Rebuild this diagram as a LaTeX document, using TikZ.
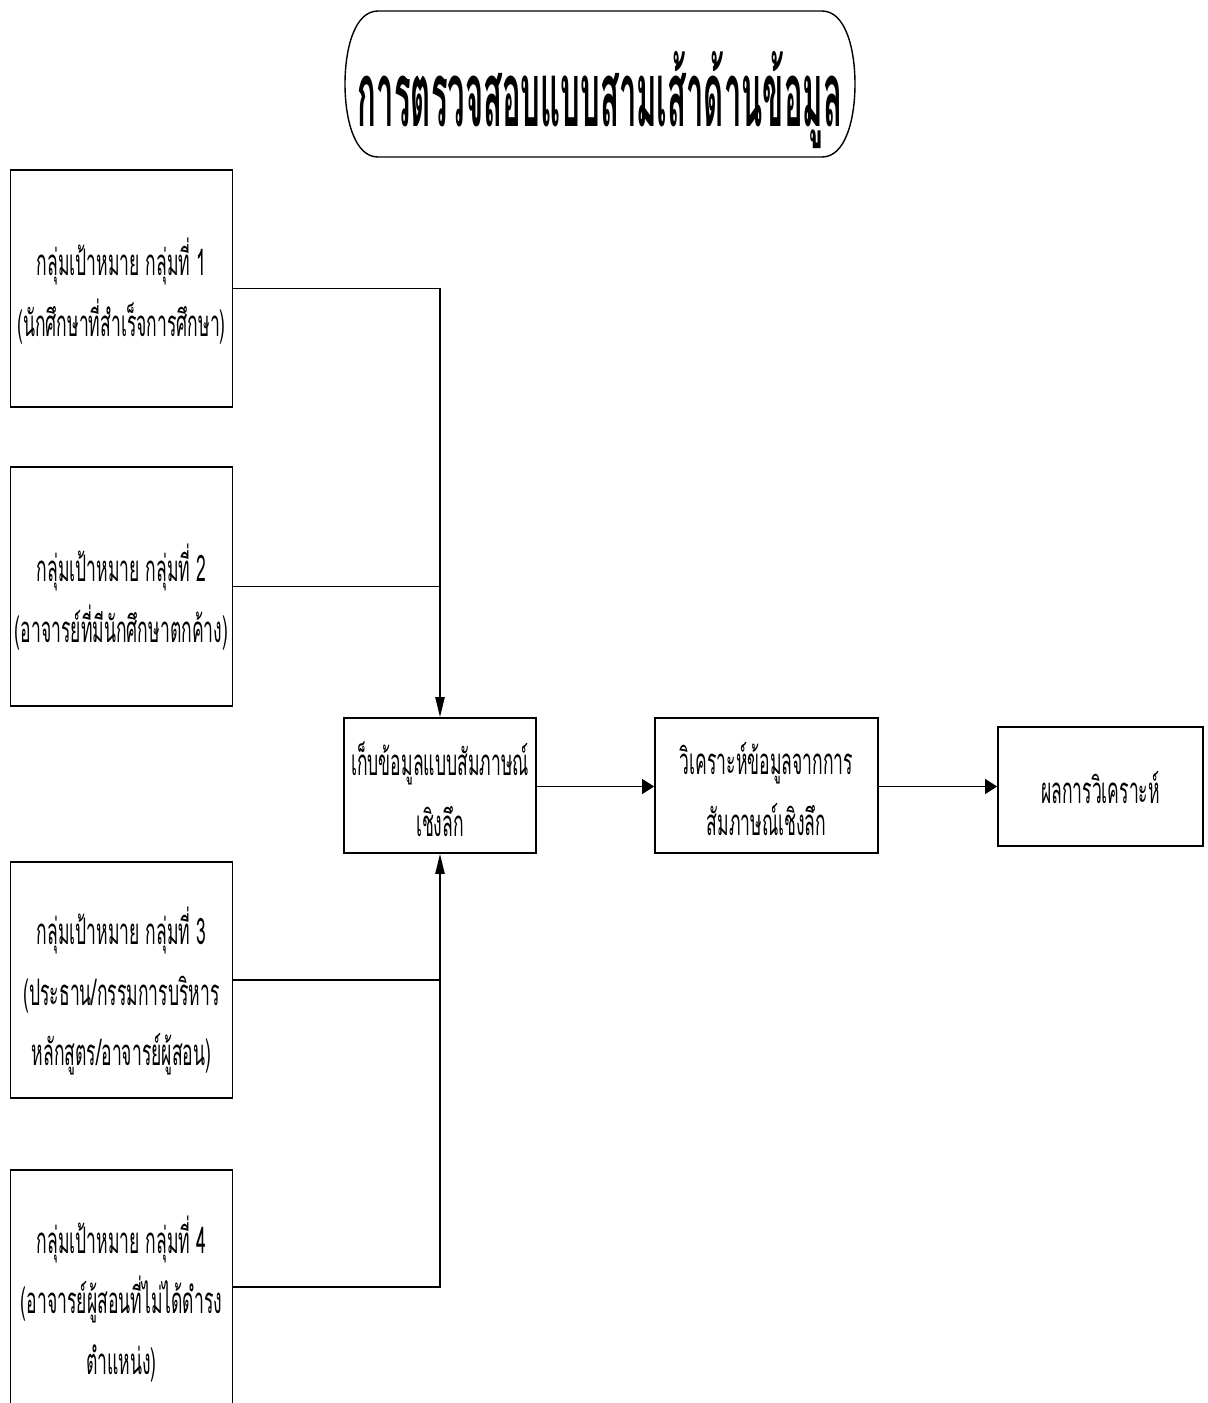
\documentclass[tikz,border=0pt]{standalone}
\usepackage{fontspec}
\usetikzlibrary{arrows.meta}
\newfontfamily\thaibox[Script=Thai,FakeStretch=0.48]{Loma}
\newfontfamily\thaititle[Script=Thai,FakeStretch=0.345]{Loma}
\newcommand\pxu{0.025cm}
\begin{document}
\begin{tikzpicture}[x=0.025cm,y=-0.025cm,
  box/.style={draw,line width=1.2pt,rectangle,inner sep=0pt},
  txt/.style={align=center,inner sep=0pt,font=\thaibox\fontsize{26}{43}\selectfont},
  conn/.style={line width=1.2pt},
  harr/.style={line width=1.2pt,-{Triangle[length=0.3cm,width=0.37cm]}},
  varr/.style={line width=1.2pt,-{Triangle[length=0.5cm,width=0.23cm]}}]
\useasboundingbox (0,0) rectangle (1208,1403);
% title
\node[inner sep=0pt] (t) at (600,100) {\thaititle\bfseries\fontsize{64}{66}\selectfont การตรวจสอบแบบสามเส้าด้านข้อมูล};
\draw[line width=1pt] (378,11) -- (822,11)
  .. controls (846,11) and (855,50) .. (855,84)
  .. controls (855,118) and (846,157) .. (822,157)
  -- (378,157)
  .. controls (354,157) and (345,118) .. (345,84)
  .. controls (345,50) and (354,11) .. (378,11) -- cycle;
% left groups
\node[box,minimum width={222*\pxu},minimum height={237*\pxu}] (b1) at (121.5,288.5) {};
\node[txt] (b1t) at (121.5,291) {กลุ่มเป้าหมาย กลุ่มที่ 1\\(นักศึกษาที่สำเร็จการศึกษา)};
\node[box,minimum width={222*\pxu},minimum height={239*\pxu}] (b2) at (121.5,586.5) {};
\node[txt] (b2t) at (121.5,597) {กลุ่มเป้าหมาย กลุ่มที่ 2\\(อาจารย์ที่มีนักศึกษาตกค้าง)};
\node[box,minimum width={222*\pxu},minimum height={236*\pxu}] (b3) at (121.5,980) {};
\node[txt] (b3t) at (121.5,991) {กลุ่มเป้าหมาย กลุ่มที่ 3\\(ประธาน/กรรมการบริหาร\\หลักสูตร/อาจารย์ผู้สอน)};
\node[box,minimum width={222*\pxu},minimum height={240*\pxu}] (b4) at (121.5,1290) {};
\node[txt] (b4t) at (121.5,1299) {กลุ่มเป้าหมาย กลุ่มที่ 4\\(อาจารย์ผู้สอนที่ไม่ได้ดำรง\\ตำแหน่ง)};
% process boxes
\node[box,minimum width={192*\pxu},minimum height={135*\pxu}] (c) at (440,785.5) {};
\node[txt] (ct) at (440,789) {เก็บข้อมูลแบบสัมภาษณ์\\เชิงลึก};
\node[box,minimum width={223*\pxu},minimum height={135*\pxu}] (d) at (766.5,785.5) {};
\node[txt] (dt) at (766.5,789) {วิเคราะห์ข้อมูลจากการ\\สัมภาษณ์เชิงลึก};
\node[box,minimum width={205*\pxu},minimum height={119*\pxu}] (e) at (1100.5,786.5) {};
\node[txt] (et) at (1100.5,788) {ผลการวิเคราะห์};
% connectors
\draw[varr] (b1.east |- 0,288.5) -| (c.north);
\draw[conn] (b2.east) -- (b2.east -| c.north);
\draw[varr] (b3.east) -| (c.south);
\draw[conn] (b4.east |- 0,1287) -| (b3.east -| c.south);
\draw[harr] (c.east |- 0,786.5) -- (d.west |- 0,786.5);
\draw[harr] (d.east |- 0,786.5) -- (e.west);
\end{tikzpicture}
\end{document}
